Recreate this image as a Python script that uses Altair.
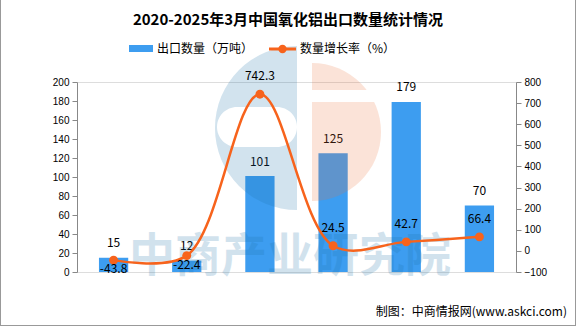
import altair as alt
import pandas as pd

# ---- data ----
years = ["2020年", "2021年", "2022年", "2023年", "2024年", "2025年1-3月"]
export_qty = [15, 12, 101, 125, 179, 70]
growth = [-43.8, -22.4, 742.3, 24.5, 42.7, 66.4]
left_ticks = list(range(0, 201, 20))
right_ticks = list(range(-100, 801, 100))

FONT = "Noto Sans CJK SC"
BAR = "#3d9df0"
LINE = "#f7631c"

df = pd.DataFrame({
    "year": years,
    "export": export_qty,
    "growth": growth,
    "glabel": [f"{v}" for v in growth],
})
one = pd.DataFrame({"a": [0]})

x_scale = alt.Scale(domain=years, paddingInner=0.6, paddingOuter=0.3)
x_axis = alt.Axis(title=None, labelAngle=0, tickBand="extent", tickSize=5,
                  labelPadding=4, labelFontSize=12)
x_enc = alt.X("year:N", sort=years, scale=x_scale, axis=x_axis)
x_enc_noaxis = alt.X("year:N", sort=years, scale=x_scale, axis=None)

y_left = alt.Y("export:Q", scale=alt.Scale(domain=[0, 200]),
               axis=alt.Axis(orient="left", title=None, values=left_ticks,
                             tickSize=5, labelPadding=3, grid=False))
y_right = alt.Y("growth:Q", scale=alt.Scale(domain=[-100, 800]),
                axis=alt.Axis(orient="right", title=None, values=right_ticks,
                              tickSize=5, labelPadding=3, grid=False))

base = alt.Chart(df)

bars = base.mark_bar(color=BAR).encode(x=x_enc, y=y_left)
bar_labels = base.mark_text(dy=-14.5, baseline="middle", fontSize=12,
                            font=FONT, color="black").encode(
    x=x_enc_noaxis, y=y_left, text="export:Q")
bar_layer = alt.layer(bars, bar_labels)

# watermark / logo (decorative)
PI = 3.141592653589793
logo_blue = alt.Chart(one).mark_arc(
    opacity=0.2, color="#1e73aa", theta=PI, theta2=2 * PI, radius=82).encode(
    x=alt.value(220), y=alt.value(46))
logo_lens = alt.Chart(one).mark_rect(color="white", cornerRadius=20).encode(
    x=alt.value(140), x2=alt.value(220), y=alt.value(25), y2=alt.value(65))
logo_peach = alt.Chart(one).mark_arc(
    opacity=0.2, color="#eb733c", theta=0, theta2=PI, radius=69).encode(
    x=alt.value(235), y=alt.value(50))
logo_gap = alt.Chart(one).mark_rect(color="white").encode(
    x=alt.value(234), x2=alt.value(310), y=alt.value(8), y2=alt.value(20))
watermark = alt.Chart(one).mark_text(
    fontSize=46, font=FONT, fontWeight="bold", color="#1e73aa", opacity=0.2,
    baseline="middle", align="center").encode(
    x=alt.value(213), y=alt.value(175), text=alt.value("中商产业研究院"))

line = base.mark_line(color=LINE, strokeWidth=2.5, interpolate="catmull-rom").encode(
    x=x_enc_noaxis, y=y_right)
pts = base.mark_point(filled=True, color=LINE, size=80, opacity=1).encode(
    x=x_enc_noaxis, y=y_right)
lab_pos = base.transform_filter("datum.growth >= 0").mark_text(
    dy=-18, baseline="middle", fontSize=12, font=FONT, color="black").encode(
    x=x_enc_noaxis, y=y_right, text="glabel:N")
lab_neg = base.transform_filter("datum.growth < 0").mark_text(
    dy=9, baseline="middle", fontSize=12, font=FONT, color="black").encode(
    x=x_enc_noaxis, y=y_right, text="glabel:N")
line_layer = alt.layer(line, pts, lab_pos, lab_neg)

# title, legend, source, frame
title = alt.Chart(one).mark_text(fontSize=15, fontWeight="bold", font=FONT,
                                 color="black", align="center", baseline="middle").encode(
    x=alt.value(211), y=alt.value(-62), text=alt.value("2020-2025年3月中国氧化铝出口数量统计情况"))
leg_rect = alt.Chart(one).mark_rect(color=BAR).encode(
    x=alt.value(52), x2=alt.value(76), y=alt.value(-37), y2=alt.value(-30))
leg_text1 = alt.Chart(one).mark_text(fontSize=12, font=FONT, color="black",
                                     align="left", baseline="middle").encode(
    x=alt.value(80), y=alt.value(-33), text=alt.value("出口数量（万吨）"))
leg_line = alt.Chart(one).mark_rule(color=LINE, strokeWidth=3).encode(
    x=alt.value(192), x2=alt.value(219), y=alt.value(-33))
leg_dot = alt.Chart(one).mark_point(filled=True, color=LINE, size=70, opacity=1).encode(
    x=alt.value(205.5), y=alt.value(-33))
leg_text2 = alt.Chart(one).mark_text(fontSize=12, font=FONT, color="black",
                                     align="left", baseline="middle").encode(
    x=alt.value(223), y=alt.value(-33), text=alt.value("数量增长率（%）"))
source = alt.Chart(one).mark_text(fontSize=12, font=FONT, color="black",
                                  align="right", baseline="middle").encode(
    x=alt.value(490), y=alt.value(230), text=alt.value("制图：中商情报网(www.askci.com)"))
frame_l = alt.Chart(one).mark_rule(color="#999999").encode(
    x=alt.value(-76.5), y=alt.value(-82), y2=alt.value(244))
frame_r = alt.Chart(one).mark_rule(color="#999999").encode(
    x=alt.value(498.5), y=alt.value(-82), y2=alt.value(244))
frame_b = alt.Chart(one).mark_rule(color="#999999").encode(
    x=alt.value(-77), x2=alt.value(499), y=alt.value(243.5))

chart = alt.layer(
    bar_layer, logo_blue, logo_peach, logo_lens, logo_gap, watermark, line_layer,
    title, leg_rect, leg_text1, leg_line, leg_dot, leg_text2, source,
    frame_l, frame_r, frame_b,
).resolve_scale(y="independent").properties(
    width=439, height=190,
    autosize=alt.AutoSizeParams(type="none"),
    padding={"left": 77, "top": 82, "right": 60, "bottom": 55},
).configure_view(stroke=None).configure_axis(
    domainColor="#888888", tickColor="#888888", labelColor="black",
    labelFont=FONT, labelFontSize=12, grid=False,
).configure(background="white")

chart.save("out.html", embed_options={"renderer": "svg", "actions": False})
